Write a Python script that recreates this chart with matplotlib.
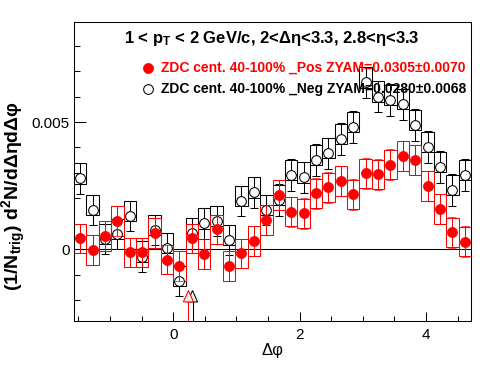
import numpy as np
import matplotlib
matplotlib.use("Agg")
import matplotlib.pyplot as plt
from matplotlib.patches import Rectangle, Polygon
from matplotlib.ticker import MultipleLocator, FuncFormatter

plt.rcParams['font.family'] = ['Liberation Sans', 'DejaVu Sans']
plt.rcParams['mathtext.fontset'] = 'custom'
plt.rcParams['mathtext.rm'] = 'Liberation Sans:bold'
plt.rcParams['mathtext.it'] = 'Liberation Sans:bold'
plt.rcParams['mathtext.bf'] = 'Liberation Sans:bold'

# 32 bins over [-pi/2, 3pi/2]
n_bins = 32
edges = np.linspace(-np.pi / 2, 3 * np.pi / 2, n_bins + 1)
centers = 0.5 * (edges[:-1] + edges[1:])
width = edges[1] - edges[0]

# ZDC 40-100% _Pos (red, filled)
pos_y = [0.00042, -0.00004, 0.00052, 0.00110, -0.00013, -0.00013, 0.00064, -0.00041,
         -0.00067, 0.00042, -0.00020, 0.00078, -0.00066, -0.00017, 0.00031, 0.00114,
         0.00213, 0.00147, 0.00141, 0.00219, 0.00243, 0.00269, 0.00215, 0.00298,
         0.00294, 0.00333, 0.00366, 0.00350, 0.00248, 0.00157, 0.00066, 0.00029]
pos_err = [0.00058] * 16 + [0.00060] * 16
pos_box_up = 0.00058
pos_box_dn = 0.00058

# ZDC 40-100% _Neg (black, open)
neg_y = [0.00278, 0.00154, 0.00039, 0.00059, 0.00130, -0.00030, 0.00075, 0.00005,
         -0.00125, 0.00062, 0.00101, 0.00111, 0.00035, 0.00189, 0.00223, 0.00154,
         0.00193, 0.00291, 0.00282, 0.00350, 0.00377, 0.00433, 0.00481, 0.00656,
         0.00600, 0.00587, 0.00570, 0.00488, 0.00401, 0.00324, 0.00232, 0.00291]
neg_err = [0.00060] * 16 + [0.00062] * 16
neg_box_up = 0.00060
neg_box_dn = 0.00020

# ZYAM minimum positions (arrows)
pos_zyam_x = 0.24
neg_zyam_x = 0.305

title = r"1 < p$_{T}$ < 2 GeV/c, 2<Δη<3.3, 2.8<η<3.3"
pos_label = "ZDC cent. 40-100% _Pos ZYAM=0.0305±0.0070"
neg_label = "ZDC cent. 40-100% _Neg ZYAM=0.0280±0.0068"

ymin, ymax = -0.00283, 0.00894
lw = 0.75

fig = plt.figure(figsize=(4.96, 3.74), dpi=100)
ax = fig.add_axes([74 / 496, 1 - 321 / 374, 397 / 496, 299 / 374])


def draw_boxes(ax, ys, up, dn, color):
    for x, y in zip(centers, ys):
        ax.add_patch(Rectangle((x - width / 2, y - dn), width, up + dn,
                               fill=False, edgecolor=color, lw=lw, zorder=2))


def draw_arrow(ax, x, color):
    hw = 0.08
    tip = -0.00163
    base = -0.00208
    ax.plot([x, x], [ymin, base], color=color, lw=lw, zorder=3, clip_on=False)
    ax.add_patch(Polygon([[x - hw, base], [x + hw, base], [x, tip]], closed=True,
                         facecolor='#eeeeee', edgecolor=color, lw=lw, zorder=3))


ax.axhline(0, color='black', lw=lw, zorder=1)

# black (neg) first
draw_boxes(ax, neg_y, neg_box_up, neg_box_dn, 'black')
ax.errorbar(centers, neg_y, yerr=neg_err, fmt='o', color='black', mfc='white',
            mec='black', ms=7, mew=0.75, elinewidth=lw, capsize=2.6, capthick=lw,
            zorder=4)
draw_arrow(ax, neg_zyam_x, 'black')

# red (pos)
draw_boxes(ax, pos_y, pos_box_up, pos_box_dn, 'red')
ax.errorbar(centers, pos_y, yerr=pos_err, fmt='o', color='red', mfc='red',
            mec='red', ms=7.3, mew=0.5, elinewidth=lw, capsize=2.6, capthick=lw,
            zorder=5)
draw_arrow(ax, pos_zyam_x, 'red')

ax.set_xlim(-np.pi / 2, 3 * np.pi / 2)
ax.set_ylim(ymin, ymax)

ax.xaxis.set_major_locator(MultipleLocator(2))
ax.xaxis.set_minor_locator(MultipleLocator(0.5))
ax.yaxis.set_major_locator(MultipleLocator(0.005))
ax.yaxis.set_minor_locator(MultipleLocator(0.001))
ax.yaxis.set_major_formatter(FuncFormatter(lambda v, p: '%g' % round(v, 6)))
ax.xaxis.set_major_formatter(FuncFormatter(lambda v, p: '%g' % round(v, 6)))

ax.tick_params(axis='x', which='major', direction='in', length=6.5, width=lw,
               labelsize=11, pad=5)
ax.tick_params(axis='x', which='minor', direction='in', length=3.3, width=lw)
ax.tick_params(axis='y', which='major', direction='in', length=8.6, width=lw,
               labelsize=11, pad=3)
ax.tick_params(axis='y', which='minor', direction='in', length=4.3, width=lw)
for s in ax.spines.values():
    s.set_linewidth(lw)

fig.text(271.5 / 496, 1 - 38 / 374, title, ha='center', va='center',
         fontsize=12, fontweight='bold')

# legend
fig.text(161 / 496, 1 - 68 / 374, pos_label, ha='left', va='center',
         fontsize=10, fontweight='bold', color='red')
fig.text(161 / 496, 1 - 89 / 374, neg_label, ha='left', va='center',
         fontsize=10, fontweight='bold', color='black')
fig.lines.append(plt.Line2D([148 / 496], [1 - 68 / 374], marker='o', ms=7.3,
                            mfc='red', mec='red', mew=0.5, transform=fig.transFigure))
fig.lines.append(plt.Line2D([148 / 496], [1 - 89 / 374], marker='o', ms=7,
                            mfc='white', mec='black', mew=0.75,
                            transform=fig.transFigure))

fig.text(272.5 / 496, 1 - 350 / 374, "Δφ", ha='center', va='center', fontsize=12)
fig.text(14 / 496, 1 - 196 / 374, r"(1/N$_{trig}$) d$^{2}$N/dΔηdΔφ", rotation=90,
         ha='center', va='center', fontsize=14, fontweight='bold')

fig.savefig("out.png", dpi=100)
